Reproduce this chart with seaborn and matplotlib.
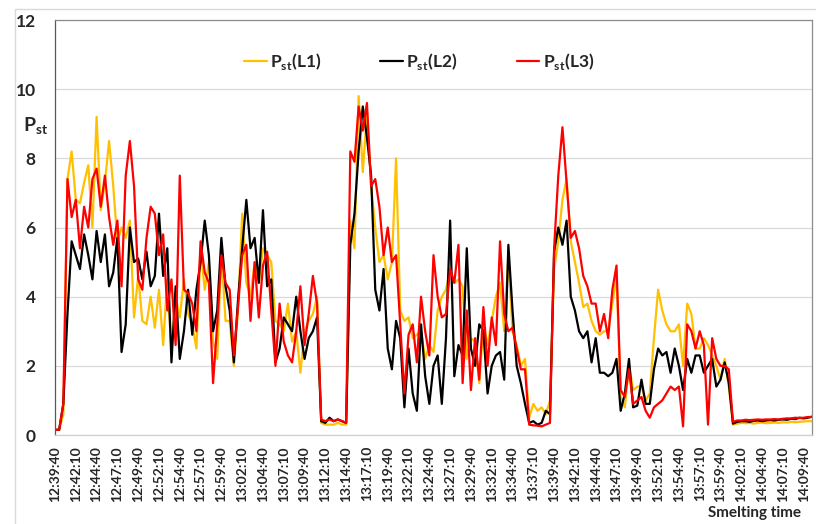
import numpy as np
import pandas as pd
import matplotlib.pyplot as plt
import seaborn as sns
from matplotlib.patches import Rectangle

# ── Data : Pst per phase, sampled every 30 s from 12:39:40 ─────────
step_s = 30

pst_l1 = [0.15, 0.15, 0.6, 7.4, 8.2, 6.8, 6.7, 7.3, 7.8, 6.0, 9.2, 6.5, 7.3, 8.5, 7.2, 5.6,
          6.0, 5.7, 6.2, 3.4, 4.6, 3.3, 3.2, 4.0, 3.1, 4.2, 2.6, 4.5, 2.4, 4.0, 3.4, 4.5, 3.5,
          3.2, 2.5, 5.4, 4.2, 5.0, 2.7, 2.2, 5.3, 3.3, 3.3, 2.0, 3.6, 6.4, 4.4, 4.0, 5.0,
          4.4, 5.4, 5.2, 5.0, 3.3, 3.2, 3.0, 3.8, 2.7, 3.0, 1.8, 3.0, 3.3, 3.5, 4.0,
          0.35, 0.3, 0.3, 0.3, 0.35, 0.3, 0.3,
          6.2, 5.4, 9.8, 7.6, 9.3, 7.2, 6.0, 5.0, 5.2, 4.5, 5.0, 8.0, 3.6, 3.3, 3.4, 2.8,
          2.9, 3.0, 2.2, 2.6, 2.4, 3.6, 4.0, 4.2, 4.8, 4.4, 4.5,
          4.3, 2.2, 2.8, 2.7, 1.5, 3.2, 2.6, 3.3, 4.0, 4.4, 3.0, 5.2, 3.0, 2.6, 2.0, 2.2,
          0.5, 0.9, 0.7, 0.8, 0.6, 1.0, 4.8, 5.6, 6.8, 7.4, 5.6, 5.0, 4.4, 3.7, 3.8, 3.3,
          3.0, 2.9, 3.0, 3.0, 3.8, 4.6, 1.1, 0.8, 2.0, 1.3, 1.4, 1.4, 1.0, 1.2, 2.8, 4.2,
          3.6, 3.2, 3.0, 3.0, 3.2, 2.0, 3.8, 3.5, 2.5, 2.5, 2.8, 2.6, 2.3, 2.0, 1.6, 2.2, 1.4,
          0.3, 0.33, 0.35, 0.34, 0.35, 0.33, 0.35, 0.36, 0.34, 0.35, 0.36, 0.35, 0.37,
          0.36, 0.38, 0.37, 0.38, 0.39, 0.4, 0.4]

pst_l2 = [0.15, 0.15, 0.9, 3.5, 5.6, 5.2, 4.8, 5.8, 5.2, 4.5, 5.9, 5.0, 5.8, 4.3, 4.7, 5.7,
          2.4, 3.2, 6.0, 5.0, 5.1, 4.5, 5.3, 4.3, 4.6, 6.4, 4.6, 5.4, 2.1, 4.3, 2.2, 3.0, 4.2,
          2.9, 4.2, 5.0, 6.2, 5.2, 3.0, 3.6, 5.7, 4.3, 3.6, 2.1, 3.9, 5.4, 6.8, 5.4, 5.7,
          4.4, 6.5, 4.3, 4.5, 2.1, 2.5, 3.4, 3.2, 3.0, 4.0, 3.0, 2.2, 2.8, 3.0, 3.4,
          0.4, 0.35, 0.5, 0.4, 0.45, 0.4, 0.35,
          5.5, 6.4, 8.2, 9.5, 8.6, 7.5, 4.2, 3.6, 4.8, 2.5, 1.9, 3.3, 2.8, 0.8, 2.5, 1.2,
          0.7, 3.2, 1.7, 0.9, 2.0, 2.3, 0.9, 2.8, 6.2, 1.7, 2.6,
          2.3, 5.4, 2.5, 2.0, 3.2, 3.0, 1.2, 2.0, 2.3, 2.4, 1.6, 5.5, 3.6, 2.0, 1.5, 0.9,
          0.35, 0.4, 0.3, 0.35, 0.7, 0.6, 5.3, 6.0, 5.5, 6.2, 4.0, 3.6, 3.0, 2.8, 3.0, 2.1,
          2.8, 1.8, 1.8, 1.7, 1.8, 2.2, 0.7, 1.2, 2.2, 0.8, 0.85, 1.6, 0.9, 0.9, 1.9, 2.5,
          2.3, 2.4, 1.8, 2.5, 2.0, 1.3, 2.2, 1.8, 2.3, 2.3, 1.8, 2.0, 2.2, 1.4, 1.6, 2.1, 1.5,
          0.33, 0.38, 0.4, 0.4, 0.38, 0.41, 0.42, 0.4, 0.42, 0.43, 0.42, 0.44, 0.45,
          0.44, 0.47, 0.46, 0.5, 0.48, 0.5, 0.53]

pst_l3 = [0.15, 0.15, 0.9, 7.4, 6.3, 6.8, 5.4, 6.6, 6.0, 7.4, 7.7, 6.6, 7.5, 6.3, 5.5, 6.2,
          4.3, 7.5, 8.5, 7.2, 4.5, 4.2, 5.7, 6.6, 6.4, 5.2, 5.8, 3.6, 4.5, 2.6, 7.5, 4.2, 4.1,
          3.8, 3.0, 5.6, 4.7, 4.4, 1.5, 3.2, 5.2, 4.4, 4.2, 2.3, 3.7, 5.2, 5.5, 3.3, 5.0,
          3.4, 4.9, 5.3, 3.6, 2.0, 3.8, 2.7, 2.3, 2.1, 3.0, 4.3, 2.6, 3.5, 4.6, 3.8,
          0.45, 0.4, 0.45, 0.4, 0.45, 0.4, 0.35,
          8.2, 7.9, 9.5, 8.8, 9.6, 7.2, 7.4, 6.6, 5.2, 6.0, 5.0, 5.2, 3.2, 1.2, 2.9, 3.2,
          2.1, 4.0, 3.0, 2.3, 5.2, 4.0, 3.4, 3.5, 4.8, 4.4, 5.5,
          1.5, 3.6, 1.3, 2.8, 1.6, 3.7, 2.0, 3.4, 2.6, 5.6, 3.5, 3.0, 3.1, 2.5, 1.9, 1.9,
          0.3, 0.28, 0.27, 0.25, 0.3, 0.35, 5.4, 7.5, 8.9, 7.3, 5.7, 5.9, 5.4, 4.6, 4.3, 3.8,
          3.8, 3.0, 3.5, 2.8, 4.2, 4.9, 1.3, 1.1, 1.9, 0.9, 1.0, 1.1, 0.7, 0.5, 0.8, 0.9,
          1.0, 1.2, 1.4, 1.3, 1.4, 0.25, 3.2, 3.0, 2.5, 3.0, 2.6, 0.3, 2.8, 2.2, 2.0, 2.0, 1.9,
          0.38, 0.42, 0.42, 0.44, 0.43, 0.44, 0.45, 0.44, 0.45, 0.45, 0.46, 0.45, 0.47,
          0.48, 0.48, 0.5, 0.49, 0.5, 0.52, 0.52]

series_labels = [r'$\mathbf{P}_{\mathbf{st}}\mathbf{(L1)}$',
                 r'$\mathbf{P}_{\mathbf{st}}\mathbf{(L2)}$',
                 r'$\mathbf{P}_{\mathbf{st}}\mathbf{(L3)}$']
series_colors = ['#FFC000', '#000000', '#FF0000']

tick_step_s = 150
tick_labels = ['12:39:40', '12:42:10', '12:44:40', '12:47:10', '12:49:40', '12:52:10',
               '12:54:40', '12:57:10', '12:59:40', '13:02:10', '13:04:40', '13:07:10',
               '13:09:40', '13:12:10', '13:14:40', '13:17:10', '13:19:40', '13:22:10',
               '13:24:40', '13:27:10', '13:29:40', '13:32:10', '13:34:40', '13:37:10',
               '13:39:40', '13:42:10', '13:44:40', '13:47:10', '13:49:40', '13:52:10',
               '13:54:40', '13:57:10', '13:59:40', '14:02:10', '14:04:40', '14:07:10',
               '14:09:40']

# ── Long-form table ───────────────────────────────────────────────
t_sec = np.arange(len(pst_l1)) * step_s
frames = []
for lab, vals in zip(series_labels, [pst_l1, pst_l2, pst_l3]):
    frames.append(pd.DataFrame({'t': t_sec, 'pst': vals, 'phase': lab}))
df = pd.concat(frames, ignore_index=True)

# ── Style ─────────────────────────────────────────────────────────
sns.set_theme(style='white')
plt.rcParams['font.family'] = ['Lato', 'DejaVu Sans']
plt.rcParams['mathtext.fontset'] = 'custom'
plt.rcParams['mathtext.rm'] = 'Lato'
plt.rcParams['mathtext.bf'] = 'Lato:bold'

fig = plt.figure(figsize=(8.16, 5.24), dpi=100)
fig.patch.set_facecolor('white')
ax = fig.add_axes([55 / 816, 1 - 435 / 524, 757 / 816, 415 / 524])

sns.lineplot(data=df, x='t', y='pst', hue='phase', hue_order=series_labels,
             palette=dict(zip(series_labels, series_colors)),
             estimator=None, sort=False, linewidth=1.6, ax=ax)

# ── Axes ──────────────────────────────────────────────────────────
ax.set_xlim(0, t_sec[-1])
ax.set_ylim(0, 12)
ax.set_yticks(range(0, 13, 2))
ax.set_yticklabels([str(v) for v in range(0, 13, 2)], fontweight='bold', fontsize=12.5)
ax.set_xticks(np.arange(len(tick_labels)) * tick_step_s)
ax.set_xticklabels(tick_labels, rotation=90, fontweight='bold', fontsize=10)
ax.tick_params(axis='x', length=0, pad=8)
ax.tick_params(axis='y', length=0, pad=14)
ax.set_xlabel('')
ax.set_ylabel('')
ax.yaxis.grid(True, color='#d9d9d9', linewidth=0.9)
ax.xaxis.grid(False)
ax.set_axisbelow(True)
ax.spines['left'].set_color('#595959')
ax.spines['top'].set_color('#8c8c8c')
ax.spines['right'].set_color('#8c8c8c')
ax.spines['bottom'].set_color('#d0d0d0')
for s in ax.spines.values():
    s.set_linewidth(0.9)

leg = ax.legend(loc='center', bbox_to_anchor=(0.481, 0.899), ncol=3, frameon=False,
                fontsize=12.5, handlelength=1.3, handletextpad=0.2, columnspacing=3.4)
for line in leg.get_lines():
    line.set_linewidth(1.6)

# ── Labels ────────────────────────────────────────────────────────
fig.text(23 / 816, 1 - 132 / 524, r'$\mathbf{P}_{\mathbf{st}}$', fontsize=14,
         ha='left', va='baseline')
fig.text(708 / 816, 1 - 517 / 524, 'Smelting time', fontsize=11, fontweight='bold',
         ha='left', va='baseline')

fig.patches.append(Rectangle((15 / 816, -0.02), 1.0, 1 - 9 / 524 + 0.02,
                             transform=fig.transFigure, fill=False,
                             edgecolor='#d9d9d9', linewidth=1.0))

plt.savefig('out.png', dpi=100)
plt.close()
